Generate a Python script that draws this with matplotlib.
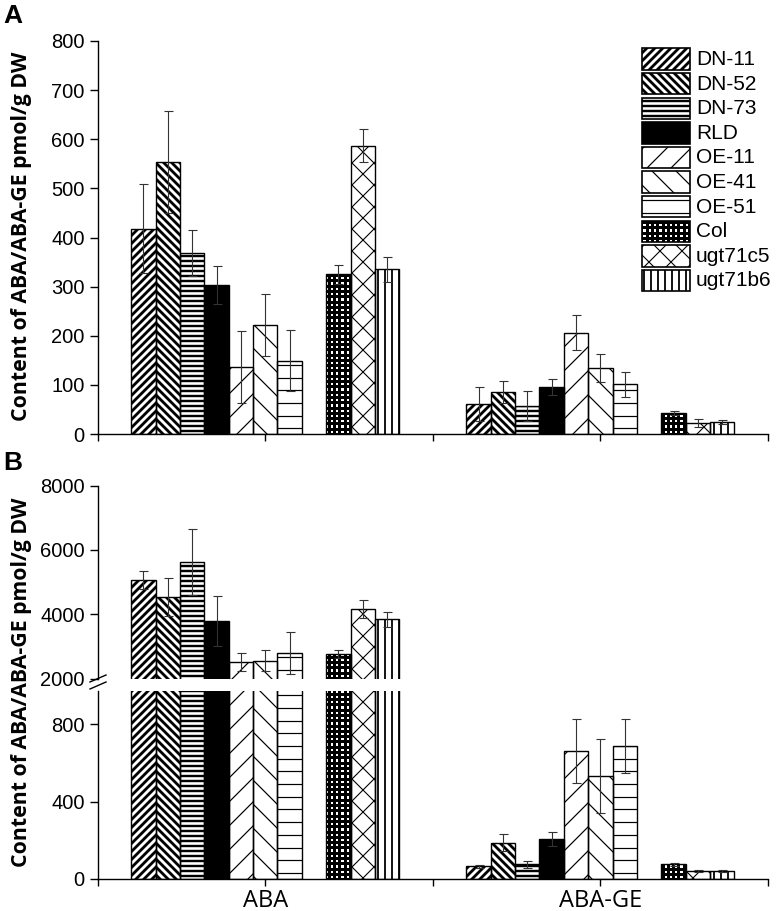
import numpy as np
import matplotlib
matplotlib.use('Agg')
import matplotlib.pyplot as plt
from matplotlib.collections import LineCollection
from matplotlib.transforms import Bbox, IdentityTransform
from matplotlib.patches import Rectangle
from matplotlib.lines import Line2D

# ---------------- data ----------------
series = ['DN-11', 'DN-52', 'DN-73', 'RLD', 'OE-11', 'OE-41', 'OE-51', 'Col', 'ugt71c5', 'ugt71b6']
groups = ['ABA', 'ABA-GE']

a_aba = [418, 553, 369, 303, 136, 221, 149, 325, 587, 335]
a_aba_err = [90, 104, 47, 38, 73, 63, 62, 20, 33, 26]
a_ge = [61, 85, 57, 96, 206, 134, 101, 43, 22, 25]
a_ge_err = [35, 22, 30, 16, 36, 28, 25, 4, 8, 4]

b_aba = [5064, 4545, 5614, 3788, 2504, 2554, 2783, 2762, 4152, 3841]
b_aba_err = [270, 590, 1030, 790, 280, 330, 650, 115, 280, 240]
b_ge = [65, 188, 76, 208, 661, 533, 686, 76, 43, 43]
b_ge_err = [8, 43, 19, 36, 163, 191, 141, 8, 6, 5]

ylabel = 'Content of ABA/ABA-GE pmol/g DW'

# ---------------- style ----------------
W, H, DPI = 777, 911, 100
# fill colour, list of (kind, spacing px, linewidth px)
styles = {
    'DN-11': ('white', [('d', 8.0, 2.8)]),
    'DN-52': ('white', [('a', 8.0, 2.8)]),
    'DN-73': ('white', [('h', 5.0, 2.4)]),
    'RLD': ('black', []),
    'OE-11': ('white', [('d', 24.0, 1.2)]),
    'OE-41': ('white', [('a', 24.0, 1.2)]),
    'OE-51': ('white', [('h', 12.7, 1.2)]),
    'Col': ('white', [('h', 5.3, 3.0), ('v', 5.3, 3.0)]),
    'ugt71c5': ('white', [('d', 22.0, 1.1), ('a', 22.0, 1.1)]),
    'ugt71b6': ('white', [('v', 7.0, 1.8)]),
}
slots = [0, 1, 2, 3, 4, 5, 6, 8, 9, 10]
bw = 0.8 / 11
centers = np.array([0.5, 1.5])

TICKFONT = 'Liberation Sans'
TICKSIZE = 14.5

fig = plt.figure(figsize=(W / DPI, H / DPI), dpi=DPI)


def pt(px):
    return px * 72.0 / DPI


def axes_px(l, t, r, b, **kw):
    return fig.add_axes([l / W, 1 - b / H, (r - l) / W, (b - t) / H], **kw)


def add_hatch(ax, patch, specs, z=2.5):
    bb = patch.get_window_extent()
    ab = ax.bbox
    x0, x1 = max(bb.x0, ab.x0), min(bb.x1, ab.x1)
    y0, y1 = max(bb.y0, ab.y0), min(bb.y1, ab.y1)
    if x1 <= x0 or y1 <= y0:
        return
    for kind, s, lw in specs:
        segs = []
        if kind == 'h':
            for k in range(int(np.floor(y0 / s)) - 1, int(np.ceil(y1 / s)) + 2):
                segs.append([(x0 - 5, k * s), (x1 + 5, k * s)])
        elif kind == 'v':
            for k in range(int(np.floor(x0 / s)) - 1, int(np.ceil(x1 / s)) + 2):
                segs.append([(k * s, y0 - 5), (k * s, y1 + 5)])
        elif kind == 'd':
            lo, hi = y0 - x1, y1 - x0
            for k in range(int(np.floor(lo / s)) - 1, int(np.ceil(hi / s)) + 2):
                c = k * s
                segs.append([(x0 - 5, x0 - 5 + c), (x1 + 5, x1 + 5 + c)])
        elif kind == 'a':
            lo, hi = y0 + x0, y1 + x1
            for k in range(int(np.floor(lo / s)) - 1, int(np.ceil(hi / s)) + 2):
                c = k * s
                segs.append([(x0 - 5, c - x0 + 5), (x1 + 5, c - x1 - 5)])
        lc = LineCollection(segs, colors='black', linewidths=pt(lw),
                            transform=IdentityTransform(), zorder=z)
        ax.add_collection(lc, autolim=False)
        lc.set_clip_box(Bbox([[x0, y0], [x1, y1]]))


def draw_bars(ax, aba, aba_err, ge, ge_err):
    for i, name in enumerate(series):
        fc, specs = styles[name]
        xs = centers + (slots[i] - 5) * bw
        vals = [aba[i], ge[i]]
        errs = [aba_err[i], ge_err[i]]
        bars = ax.bar(xs, vals, bw, color=fc, edgecolor='none', zorder=2)
        for p in bars.patches:
            add_hatch(ax, p, specs)
        ax.bar(xs, vals, bw, fill=False, edgecolor='black', linewidth=1.0, zorder=3)
        ax.errorbar(xs, vals, yerr=errs, fmt='none', ecolor='#333333',
                    elinewidth=0.8, capsize=pt(4.5), capthick=0.8, zorder=4)


def style_axes(ax, bottom=True):
    for s in ['top', 'right']:
        ax.spines[s].set_visible(False)
    ax.spines['left'].set_linewidth(1.0)
    ax.spines['bottom'].set_linewidth(1.0)
    ax.set_xlim(0, 2)
    ax.tick_params(axis='y', direction='out', length=pt(8), width=1.0,
                   labelsize=TICKSIZE, pad=pt(5))
    if bottom:
        ax.set_xticks([0, 0.5, 1, 1.5, 2])
        ax.tick_params(axis='x', direction='out', length=pt(7), width=1.0)
    else:
        ax.spines['bottom'].set_visible(False)
        ax.set_xticks([])


# ---------------- panel A ----------------
axA = axes_px(97.7, 41, 768, 434)
axA.set_ylim(0, 800)
axA.set_yticks(np.arange(0, 801, 100))
style_axes(axA)
axA.set_xticklabels([])
draw_bars(axA, a_aba, a_aba_err, a_ge, a_ge_err)

# ---------------- panel B (broken axis) ----------------
axBu = axes_px(97.7, 485.7, 768, 678.5)
axBu.set_ylim(2000, 8000)
axBu.set_yticks([2000, 4000, 6000, 8000])
style_axes(axBu, bottom=False)
draw_bars(axBu, b_aba, b_aba_err, b_ge, b_ge_err)

axBl = axes_px(97.7, 691, 768, 879)
axBl.set_ylim(0, 188 / 0.19375)
axBl.set_yticks([0, 400, 800])
style_axes(axBl)
axBl.set_xticklabels(['', groups[0], '', groups[1], ''], fontfamily='Open Sans', fontsize=17)
axBl.tick_params(axis='x', pad=2)
draw_bars(axBl, b_aba, b_aba_err, b_ge, b_ge_err)

for ax in (axA, axBu, axBl):
    for lab in ax.get_yticklabels():
        lab.set_fontfamily(TICKFONT)

# ---------------- overlay: legend, labels, break marks ----------------
ov = fig.add_axes([0, 0, 1, 1], zorder=5)
ov.set_xlim(0, W)
ov.set_ylim(H, 0)
ov.axis('off')
ov.patch.set_visible(False)

lx, ltop, lw_, lh, pitch = 641.7, 48.3, 48.3, 21.5, 24.6
for i, name in enumerate(series):
    fc, specs = styles[name]
    top = ltop + i * pitch
    r = Rectangle((lx, top), lw_, lh, facecolor=fc, edgecolor='none', zorder=1)
    ov.add_patch(r)
    add_hatch(ov, r, specs, z=2)
    ov.add_patch(Rectangle((lx, top), lw_, lh, fill=False, edgecolor='black',
                           linewidth=1.2, zorder=3))
    ov.text(lx + lw_ + 6, top + lh / 2 + 0.5, name, fontsize=15, family=TICKFONT,
            va='center', ha='left', zorder=4)

# broken-axis marks
for y in (682.0, 689.0):
    ov.add_line(Line2D([90, 106], [y, y - 7], color='black', lw=1.0))

# y labels
fig.text(22 / W, 1 - 236 / H, ylabel, rotation=90, ha='center', va='center',
         fontsize=15.3, fontweight='bold', family='Open Sans')
fig.text(22 / W, 1 - 682 / H, ylabel, rotation=90, ha='center', va='center',
         fontsize=15.3, fontweight='bold', family='Open Sans')

# panel letters
fig.text(3 / W, 1 - 4 / H, 'A', ha='left', va='top', fontsize=19, fontweight='bold', family=TICKFONT)
fig.text(3 / W, 1 - 451 / H, 'B', ha='left', va='top', fontsize=19, fontweight='bold', family=TICKFONT)

fig.savefig('out.png', dpi=DPI)
